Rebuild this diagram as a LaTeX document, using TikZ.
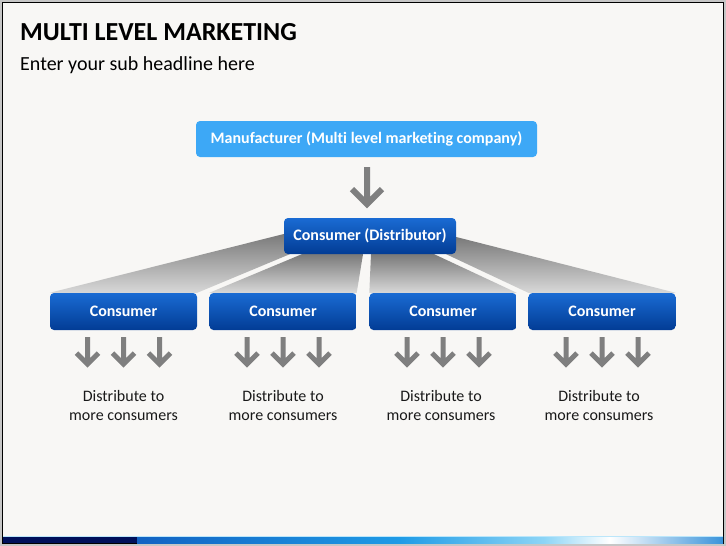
\documentclass[tikz,border=0pt]{standalone}
\usepackage{fontspec}
\setmainfont{Carlito}[Ligatures=NoCommon]
\usetikzlibrary{calc,backgrounds}
\definecolor{outergray}{HTML}{C6C6C6}
\definecolor{pagebg}{HTML}{F8F7F5}
\definecolor{lightbox}{HTML}{3DA8F6}
\definecolor{boxtop}{HTML}{1A6BD3}
\definecolor{boxbot}{HTML}{023C95}
\definecolor{arrowgray}{HTML}{7F7F7F}
\definecolor{fantop}{HTML}{7A7A7A}
\definecolor{fanbot}{HTML}{D8D8D8}
\definecolor{navy}{HTML}{00105A}
\definecolor{barA}{HTML}{1262C2}
\definecolor{barB}{HTML}{1F9BE6}
\definecolor{barC}{HTML}{8DD5F6}
\definecolor{barD}{HTML}{3A93DA}
\begin{document}
\begin{tikzpicture}[x=1pt,y=-1pt,
  lightnode/.style={fill=lightbox, rounded corners=4pt, minimum height=36pt, text=white, font=\fontsize{16}{19}\selectfont\bfseries},
  darknode/.style={top color=boxtop, bottom color=boxbot, draw=none, rounded corners=4pt, minimum height=37pt, text=white, font=\fontsize{16}{19}\selectfont\bfseries},
  consnode/.style={darknode, minimum width=147pt},
  distnode/.style={font=\fontsize{16}{19}\selectfont, text=black!90, align=center, inner sep=0pt},
  fan/.style={top color=fantop, bottom color=fanbot, draw=none},
  garrow/.style={draw=arrowgray, line width=5pt, line cap=butt, line join=miter},
  pics/smalldown/.style={code={\draw[garrow] (0,0)--(0,27) (-11,16)--(0,27)--(11,16);}},
  pics/bigdown/.style={code={\draw[garrow,line width=6pt] (0,0)--(0,37) (-15,22)--(0,37)--(15,22);}},
]
\useasboundingbox (0,0) rectangle (726,546);
% page (on the background layer, below the fans)
\begin{pgfonlayer}{background}
\fill[outergray] (0,0) rectangle (726,546);
\fill[pagebg] (2.5,2.5) rectangle (723.5,543.5);
\draw[black, line width=0.9pt] (2.5,2.5) rectangle (723.5,543.5);
% bottom bar
\fill[navy] (3,536.5) rectangle (137,543);
\shade[left color=barA, right color=barB] (137,536.5) rectangle (400,543);
\shade[left color=barB, right color=barC] (399.5,536.5) rectangle (545,543);
\shade[left color=barC, right color=white] (544.5,536.5) rectangle (610,543);
\shade[left color=white, right color=barD] (609.5,536.5) rectangle (723,543);
\draw[line width=0.8pt, color=barC!60!white] (3,536.2) -- (723,536.2);
\end{pgfonlayer}

% titles
\node[anchor=base west, inner sep=0pt, font=\fontsize{26}{30}\selectfont\bfseries] (title) at (20,40) {MULTI LEVEL MARKETING};
\node[anchor=base west, inner sep=0pt, font=\fontsize{20}{24}\selectfont] (subtitle) at (20,70) {Enter your sub headline here};

% nodes
\node[lightnode, minimum width=341pt] (man) at (366.5,139) {Manufacturer (Multi level marketing company)};
\node[darknode, minimum width=172pt, minimum height=36pt] (dist) at (370,236) {Consumer (Distributor)};
\node[consnode] (c1) at (123.5,311.5) {Consumer};
\node[consnode] (c2) at (283,311.5) {Consumer};
\node[consnode] (c3) at (443,311.5) {Consumer};
\node[consnode] (c4) at (602,311.5) {Consumer};

% fans behind the boxes
\begin{pgfonlayer}{background}
\shade[fan] (c1.north west) -- ($(dist.west)+(0,-2)$) -- ($(dist.south west)+(6,0)$) -- (c1.north east) -- cycle;
\shade[fan] (c2.north west) -- ($(dist.south west)+(18,0)$) -- ($(dist.south)+(-7,0)$) -- (c2.north east) -- cycle;
\shade[fan] (c3.north west) -- ($(dist.south)+(1,0)$) -- ($(dist.south east)+(-22,0)$) -- (c3.north east) -- cycle;
\shade[fan] (c4.north west) -- ($(dist.south east)+(-10,0)$) -- ($(dist.east)+(0,1)$) -- (c4.north east) -- cycle;
\end{pgfonlayer}

% main arrow
\pic at ($(man.south)+(0.5,10)$) {bigdown};

% small arrows
\foreach \c in {c1,c2,c3,c4}{
  \foreach \dx in {-36,0,36}{
    \pic at ($(\c.south)+(\dx,7)$) {smalldown};
  }
}

% texts
\node[distnode] (t1) at ($(c1.south)+(0,75)$) {Distribute to\\more consumers};
\node[distnode] (t2) at ($(c2.south)+(0,75)$) {Distribute to\\more consumers};
\node[distnode] (t3) at ($(c3.south)+(-2,75)$) {Distribute to\\more consumers};
\node[distnode] (t4) at ($(c4.south)+(-3,75)$) {Distribute to\\more consumers};
\end{tikzpicture}
\end{document}
